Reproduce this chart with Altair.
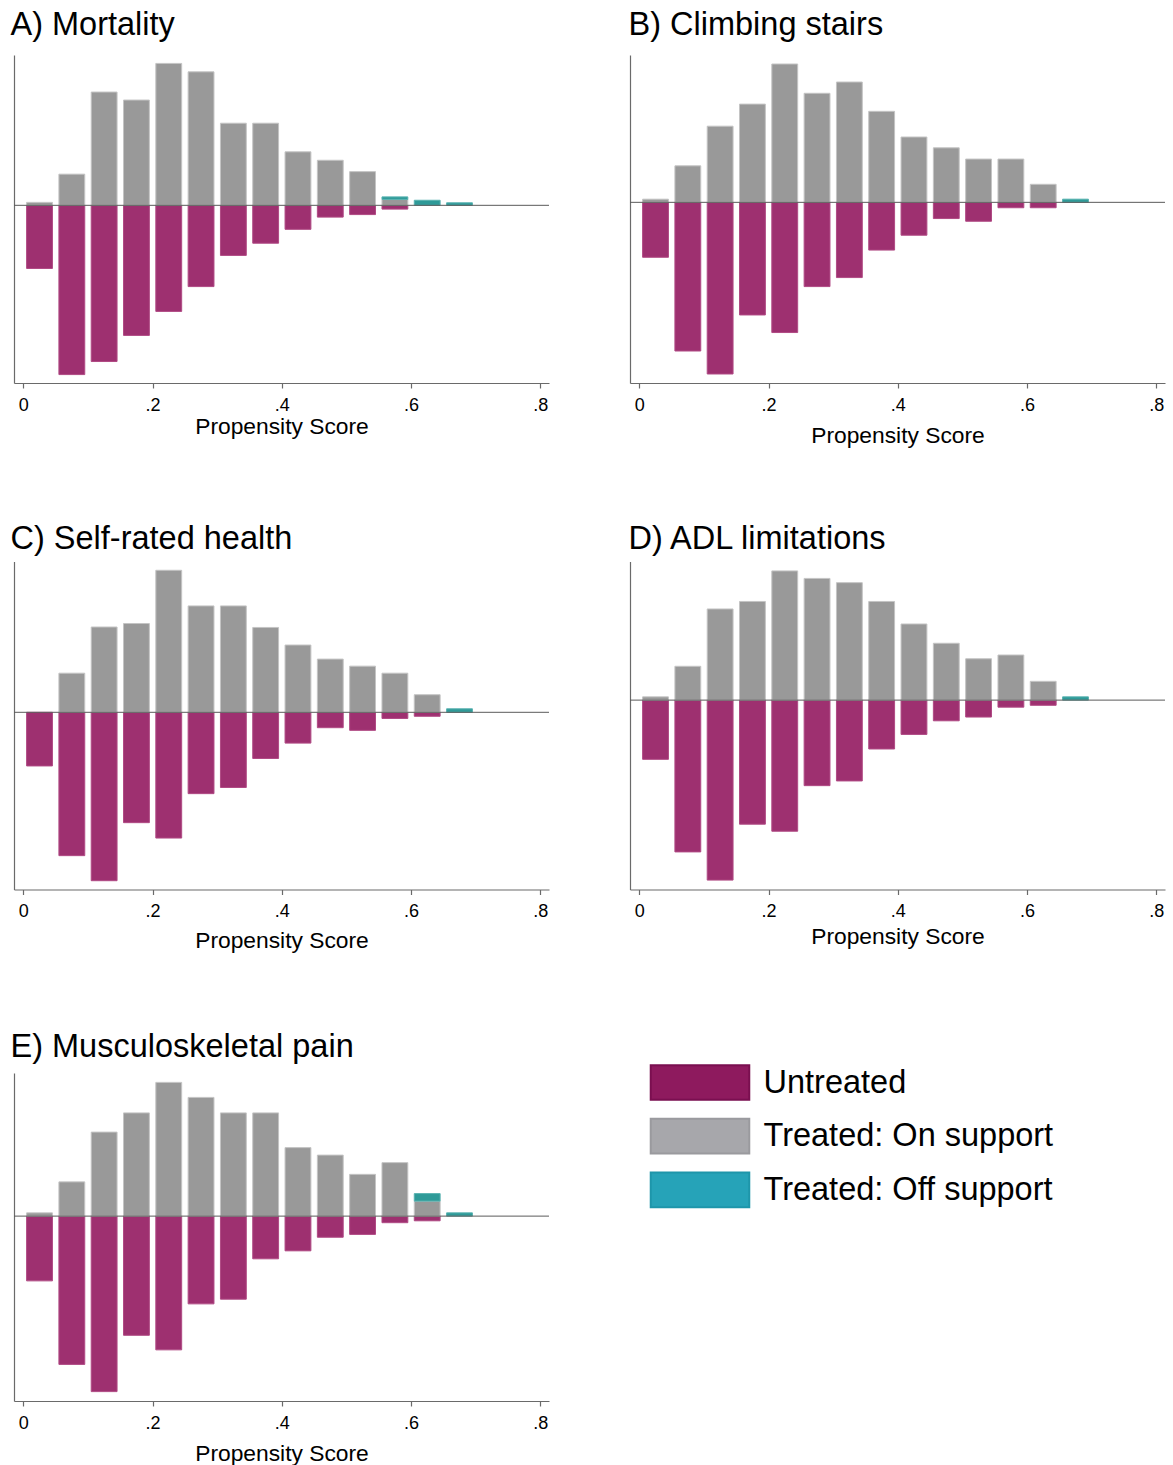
import altair as alt
import pandas as pd

# Bin centres of the propensity-score histograms (bin width 0.05)
BIN_CENTRES = [0.025, 0.075, 0.125, 0.175, 0.225, 0.275, 0.325,
               0.375, 0.425, 0.475, 0.525, 0.575, 0.625, 0.675]

GROUPS = ["Untreated", "Treated: On support", "Treated: Off support"]

# Densities per bin, one list per group and outcome
untreated_a = [1.50, 4.02, 3.71, 3.09, 2.52, 1.93, 1.19, 0.90, 0.57, 0.28, 0.22, 0.09, 0.00, 0.00]
on_support_a = [0.07, 0.74, 2.69, 2.50, 3.37, 3.17, 1.95, 1.95, 1.27, 1.07, 0.80, 0.14, 0.00, 0.00]
off_support_a = [0.00, 0.00, 0.00, 0.00, 0.00, 0.00, 0.00, 0.00, 0.00, 0.00, 0.00, 0.06, 0.12, 0.06]

untreated_b = [1.22, 3.30, 3.81, 2.50, 2.89, 1.87, 1.67, 1.06, 0.73, 0.36, 0.42, 0.12, 0.12, 0.00]
on_support_b = [0.07, 0.81, 1.69, 2.18, 3.07, 2.42, 2.67, 2.02, 1.45, 1.21, 0.96, 0.96, 0.40, 0.00]
off_support_b = [0.00, 0.00, 0.00, 0.00, 0.00, 0.00, 0.00, 0.00, 0.00, 0.00, 0.00, 0.00, 0.00, 0.07]

untreated_c = [1.22, 3.26, 3.83, 2.51, 2.86, 1.85, 1.71, 1.05, 0.70, 0.35, 0.41, 0.14, 0.09, 0.00]
on_support_c = [0.00, 0.89, 1.94, 2.02, 3.23, 2.42, 2.42, 1.93, 1.53, 1.21, 1.05, 0.89, 0.40, 0.00]
off_support_c = [0.00, 0.00, 0.00, 0.00, 0.00, 0.00, 0.00, 0.00, 0.00, 0.00, 0.00, 0.00, 0.00, 0.08]

untreated_d = [1.26, 3.23, 3.83, 2.64, 2.79, 1.82, 1.72, 1.04, 0.73, 0.44, 0.36, 0.15, 0.11, 0.00]
on_support_d = [0.07, 0.72, 1.94, 2.10, 2.75, 2.59, 2.50, 2.10, 1.62, 1.21, 0.88, 0.96, 0.40, 0.00]
off_support_d = [0.00, 0.00, 0.00, 0.00, 0.00, 0.00, 0.00, 0.00, 0.00, 0.00, 0.00, 0.00, 0.00, 0.07]

untreated_e = [1.38, 3.16, 3.74, 2.54, 2.85, 1.87, 1.77, 0.91, 0.74, 0.45, 0.39, 0.14, 0.10, 0.00]
on_support_e = [0.07, 0.73, 1.79, 2.20, 2.85, 2.53, 2.20, 2.20, 1.46, 1.30, 0.89, 1.14, 0.32, 0.00]
off_support_e = [0.00, 0.00, 0.00, 0.00, 0.00, 0.00, 0.00, 0.00, 0.00, 0.00, 0.00, 0.00, 0.16, 0.07]

PANEL_TITLES = ["A) Mortality", "B) Climbing stairs", "C) Self-rated health",
                "D) ADL limitations", "E) Musculoskeletal pain"]

FONT = "Liberation Sans"
BAR_FILL = ["#9e3070", "#999999", "#2e9a98"]
BAR_EDGE = ["#b04a84", "#c4c4c4", "#58b2b0"]
KEY_FILL = ["#8e1a5e", "#a7a7ab", "#26a3b8"]
KEY_EDGE = ["#7a0f50", "#9a9a9e", "#1e96aa"]

PANEL_W, PANEL_H = 535, 328
HALF_BAR = 0.02   # bars are 0.04 wide inside 0.05 bins
PAD = 0.2         # headroom above/below the tallest bars


def histogram_table(untreated, on_support, off_support):
    rows = []
    for c, u, g, t in zip(BIN_CENTRES, untreated, on_support, off_support):
        if u > 0:
            rows.append(dict(group=GROUPS[0], x0=c - HALF_BAR, x1=c + HALF_BAR, y0=0.0, y1=-u))
        if g > 0:
            rows.append(dict(group=GROUPS[1], x0=c - HALF_BAR, x1=c + HALF_BAR, y0=0.0, y1=g))
        if t > 0:
            rows.append(dict(group=GROUPS[2], x0=c - HALF_BAR, x1=c + HALF_BAR, y0=g, y1=g + t))
    return pd.DataFrame(rows)


def panel(title, untreated, on_support, off_support, title_pad, title_dx, title_offset):
    df = histogram_table(untreated, on_support, off_support)
    top = max(g + t for g, t in zip(on_support, off_support)) + PAD
    bottom = -(max(untreated) + PAD)
    xscale = alt.Scale(domain=[-0.0145, 0.8135], nice=False, zero=False)
    yscale = alt.Scale(domain=[bottom, top], nice=False, zero=False)

    bars = alt.Chart(df).mark_bar(strokeWidth=1).encode(
        x=alt.X("x0:Q", scale=xscale,
                axis=alt.Axis(values=[0, 0.2, 0.4, 0.6, 0.8],
                              labelExpr="datum.value == 0 ? '0' : replace(format(datum.value, '.1f'), '0.', '.')",
                              title="Propensity Score", titlePadding=title_pad,
                              grid=False, tickSize=5, labelPadding=8, labelFlush=False)),
        x2="x1:Q",
        y=alt.Y("y0:Q", scale=yscale,
                axis=alt.Axis(labels=False, ticks=False, grid=False, title=None)),
        y2="y1:Q",
        fill=alt.Fill("group:N", scale=alt.Scale(domain=GROUPS, range=BAR_FILL), legend=None),
        stroke=alt.Stroke("group:N", scale=alt.Scale(domain=GROUPS, range=BAR_EDGE), legend=None),
    )
    zero = alt.Chart(pd.DataFrame({"level": [0.0]})).mark_rule(
        color="#5a5a5a", strokeWidth=1).encode(y="level:Q")

    return alt.layer(bars, zero).properties(
        width=PANEL_W, height=PANEL_H,
        title=alt.TitleParams(title, anchor="start", dx=title_dx, offset=title_offset),
    )


# Wide key swatch: the path spans [-1, 1] vertically, so the symbol size
# only sets its height and the entry rows stay compact.
KEY_SHAPE = "M-2.84,-1L2.84,-1L2.84,1L-2.84,1Z"
key_legend = alt.Legend(
    orient="none", legendX=53.5, legendY=-9, padding=0, title=None,
    symbolType=KEY_SHAPE, symbolSize=1204, symbolStrokeWidth=2, symbolOpacity=1,
    labelFont=FONT, labelFontSize=32.5, labelColor="black", labelOffset=45,
    labelLimit=600, rowPadding=10.7,
)
key = alt.Chart(pd.DataFrame({"group": GROUPS})).mark_point(filled=True, opacity=0).encode(
    fill=alt.Fill("group:N", sort=GROUPS, scale=alt.Scale(domain=GROUPS, range=KEY_FILL), legend=key_legend),
    stroke=alt.Stroke("group:N", sort=GROUPS, scale=alt.Scale(domain=GROUPS, range=KEY_EDGE), legend=key_legend),
).properties(width=PANEL_W, height=PANEL_H)

pa = panel(PANEL_TITLES[0], untreated_a, on_support_a, off_support_a, 1, -3, 13.5)
pb = panel(PANEL_TITLES[1], untreated_b, on_support_b, off_support_b, 10, -1, 13.5)
pc = panel(PANEL_TITLES[2], untreated_c, on_support_c, off_support_c, 9, -3, 6)
pd_ = panel(PANEL_TITLES[3], untreated_d, on_support_d, off_support_d, 5, -1, 6)
pe = panel(PANEL_TITLES[4], untreated_e, on_support_e, off_support_e, 10, -3, 10)


def row(left, right):
    return alt.hconcat(left, right, spacing=78).resolve_scale(
        fill="independent", stroke="independent")


lower = alt.vconcat(row(pc, pd_), row(pe, key), spacing=77.5).resolve_scale(
    fill="independent", stroke="independent")

chart = alt.vconcat(row(pa, pb), lower, spacing=75.5).resolve_scale(
    fill="independent", stroke="independent"
).properties(
    padding={"left": 10, "top": 9, "right": 0, "bottom": 0},
    background="white",
).configure_view(stroke=None).configure_axis(
    domainColor="#6a6a6a", domainWidth=1.2, tickColor="#6a6a6a", tickWidth=1.2,
    labelFont=FONT, labelFontSize=18, labelColor="black",
    titleFont=FONT, titleFontSize=22.8, titleFontWeight="normal", titleColor="black",
).configure_title(
    font=FONT, fontSize=32.5, fontWeight="normal", color="black",
)

chart.save("out.html", embed_options={"renderer": "svg", "actions": False})
